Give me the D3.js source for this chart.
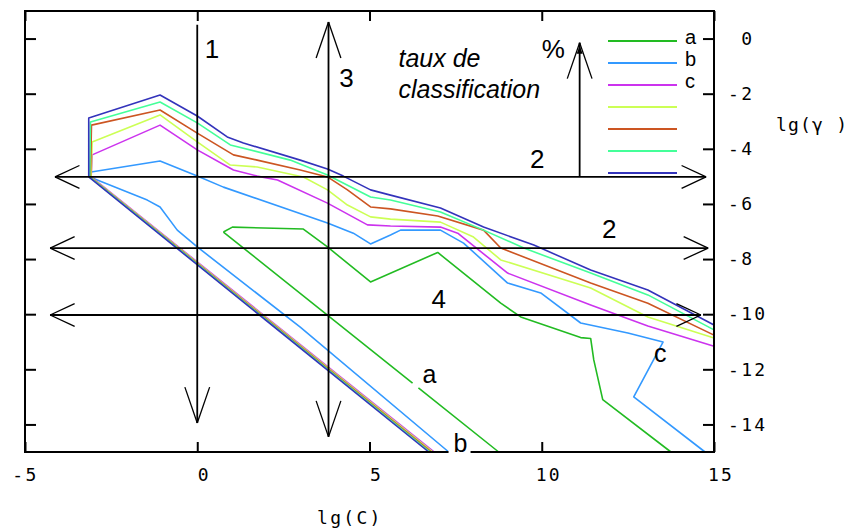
<!DOCTYPE html>
<html>
<head>
<meta charset="utf-8">
<script src="https://cdn.jsdelivr.net/npm/d3@7"></script>
<style>
  html, body { margin: 0; padding: 0; background: #fff; }
  svg { display: block; }
  .mono { font-family: "DejaVu Sans Mono", monospace; font-size: 18px; letter-spacing: 2.3px; fill: #000; }
  .sans { font-family: "Liberation Sans", Arial, sans-serif; fill: #000; }
</style>
</head>
<body>
<svg id="chart" width="853" height="529"></svg>
<script>
// ---------------- data ----------------
const xTicks = [-5, 0, 5, 10, 15];
const yTicks = [0, -2, -4, -6, -8, -10, -12, -14];
const seriesKeys = ["a", "b", "c", "d", "e", "f", "g"];
const seriesColors = ["#22bb22", "#3399ff", "#cc33ee", "#ccff55", "#cc5522", "#44ff99", "#3333bb"];
const legendLabels = ["a", "b", "c", "", "", "", ""];

// contour "a" (closed loop-ish shape)
const upperA = [[0.76,-7.02],[1.02,-6.84],[3.08,-6.91],[3.78,-7.56],[5.03,-8.83],[6.98,-7.76],[8.81,-9.6],[9.39,-10.1],[11.13,-10.85],[11.42,-10.88],[11.51,-11.66],[11.77,-13.1],[13.75,-15]];
const lowerA = [[0.76,-7.02],[6.25,-12.5],null,[6.42,-12.67],[8.75,-15]];
// contour "b"
const upperB = [[-3.12,-5.02],[-3.08,-4.84],[-1.08,-4.44],[0,-4.99],[0.76,-5.39],[3.78,-6.69],[4.53,-7.06],[5.03,-7.45],[5.61,-7.13],[5.9,-6.95],[7.06,-6.95],[7.73,-7.42],[9.01,-8.87],[9.97,-9.23],[11.13,-10.32],[12.5,-10.68],[13.52,-11.01],[12.67,-13.0],[14.74,-15]];
const lowerB = [[-3.12,-5.02],[-1.45,-5.86],[-1.08,-6.11],[-0.58,-6.95],[0,-7.56],[2.99,-10.47],[7.3,-15]];
// contour "c"
const upperC = [[-3.08,-5.02],[-3.05,-4.22],[-1.08,-3.14],[0,-4.04],[1.05,-4.77],[1.74,-4.99],[2.33,-5.13],[3.78,-5.97],[4.94,-6.76],[5.61,-6.8],[7.06,-6.84],[7.56,-7.06],[8.43,-7.93],[9.01,-8.51],[11.42,-9.67],[13.08,-10.43],[15,-11.16]];
const lowerC = [[-3.08,-5.02],[6.88,-15]];
// contour "d"
const upperD = [[-3.08,-5.02],[-3.05,-3.75],[-1.08,-2.77],[0,-3.75],[0.96,-4.59],[1.74,-4.66],[3.08,-5.02],[3.78,-5.49],[4.36,-6.04],[5.03,-6.47],[5.61,-6.55],[7.06,-6.66],[8.02,-7.2],[8.81,-8.03],[11.42,-9.05],[13.08,-10.1],[15,-10.86]];
const lowerD = [[-3.1,-5.02],[6.84,-15]];
// contour "e"
const upperE = [[-3.1,-5.02],[-3.07,-3.14],[-1.08,-2.59],[0,-3.43],[1.05,-4.22],[1.74,-4.41],[2.99,-4.77],[3.78,-5.02],[4.36,-5.49],[5.03,-6.11],[5.61,-6.18],[6.98,-6.44],[8.31,-6.95],[8.81,-7.6],[11.42,-8.87],[13.08,-9.6],[15,-10.76]];
const lowerE = [[-3.12,-5.02],[6.8,-15]];
// contour "f"
const upperF = [[-3.12,-5.02],[-3.1,-3.03],[-1.08,-2.3],[0,-3.06],[0.96,-3.86],[2.7,-4.41],[3.78,-4.95],[5.03,-5.75],[5.61,-5.86],[7.06,-6.29],[8.31,-6.95],[9.48,-7.6],[11.42,-8.51],[13.08,-9.3],[15,-10.57]];
const lowerF = [[-3.13,-5.02],[6.76,-15]];
// contour "g"
const upperG = [[-3.15,-5.02],[-3.15,-2.88],[-1.08,-2.05],[0,-2.81],[0.87,-3.57],[1.34,-3.79],[2.99,-4.41],[3.78,-4.73],[4.24,-4.99],[5.03,-5.49],[5.61,-5.68],[7.06,-6.15],[8.31,-6.84],[9.77,-7.49],[11.42,-8.4],[13.08,-9.12],[15,-10.39]];
const lowerG = [[-3.15,-5.02],[6.72,-15]];

const upperBranches = [upperA, upperB, upperC, upperD, upperE, upperF, upperG];
const lowerBranches = [lowerA, lowerB, lowerC, lowerD, lowerE, lowerF, lowerG];

// annotation arrows (data coordinates)
const arrowFrom = [[0,0.5],[3.81,-14.45],[-4.13,-5.02],[-4.27,-7.6],[-4.27,-10.03],[11.1,-5.02]];
const arrowTo   = [[0,-13.95],[3.81,0.6],[14.77,-5.02],[14.83,-7.6],[14.62,-10.03],[11.1,-0.15]];
const arrowStartHead = [false, true, true, true, true, false];
const arrowEndHead   = [true, true, true, true, true, true];

// annotation texts (data coordinates of text start / baseline)
const annoTexts = ["1", "3", "2", "2", "4", "%"];
const annoPos = [[0.22,-0.71],[4.12,-1.76],[9.66,-4.70],[11.75,-7.24],[6.8,-9.78],[10.0,-0.71]];
const titleLines = ["taux de", "classification"];
const titlePos = [[5.84,-1.03],[5.84,-2.16]];
const curveLabels = ["a", "b", "c"];
const curveLabelPos = [[6.54,-12.5],[7.44,-15.0],[13.26,-11.74]];

// ---------------- chart ----------------
const svg = d3.select("#chart");
const x = d3.scaleLinear().domain([-5, 15]).range([25, 714]);
const y = d3.scaleLinear().domain([-15, 1]).range([452, 11]);

svg.append("rect").attr("width", 853).attr("height", 529).attr("fill", "#fff");

const line = d3.line()
  .defined(d => d !== null)
  .x(d => x(d[0])).y(d => y(d[1]));

const curves = svg.append("g").attr("fill", "none").attr("stroke-width", 1.6).attr("stroke-linejoin", "round");
seriesKeys.forEach((k, i) => {
  curves.append("path").attr("d", line(lowerBranches[i])).attr("stroke", seriesColors[i]);
  curves.append("path").attr("d", line(upperBranches[i])).attr("stroke", seriesColors[i]);
});

// annotation arrows
const anno = svg.append("g").attr("stroke", "#000").attr("fill", "none");
function head(tip, from) {
  const tx = x(tip[0]), ty = y(tip[1]);
  const fx = x(from[0]), fy = y(from[1]);
  const L = Math.hypot(tx - fx, ty - fy);
  const ux = (tx - fx) / L, uy = (ty - fy) / L;
  const vertical = Math.abs(uy) > Math.abs(ux);
  const len = vertical ? 38 : 27, ang = (vertical ? 19 : 25) * Math.PI / 180;
  [-1, 1].forEach(s => {
    const c = Math.cos(s * ang), sn = Math.sin(s * ang);
    const rx = ux * c - uy * sn, ry = ux * sn + uy * c;
    anno.append("line").attr("x1", tx).attr("y1", ty)
      .attr("x2", tx - rx * len).attr("y2", ty - ry * len)
      .attr("stroke-width", 1.3);
  });
}
arrowFrom.forEach((f, i) => {
  const t = arrowTo[i];
  anno.append("line")
    .attr("x1", x(f[0])).attr("y1", y(f[1]))
    .attr("x2", x(t[0])).attr("y2", y(t[1]))
    .attr("stroke-width", 1.8);
  if (arrowStartHead[i]) head(f, t);
  if (arrowEndHead[i]) head(t, f);
});
// small filled tip on the % arrow
{
  const t = arrowTo[5];
  const tx = x(t[0]), ty = y(t[1]);
  svg.append("path").attr("d", `M${tx},${ty + 3}L${tx - 3},${ty + 11}L${tx + 3},${ty + 11}Z`).attr("fill", "#000");
}

// axes (inward ticks on all four sides)
const fmt = v => (v < 0 ? "-" : "\u00a0") + Math.abs(v);
const axB = svg.append("g").attr("transform", `translate(0,${y(-15)})`)
  .call(d3.axisBottom(x).tickValues(xTicks).tickSizeInner(-10).tickSizeOuter(0).tickPadding(16).tickFormat(fmt));
const axT = svg.append("g").attr("transform", `translate(0,${y(1)})`)
  .call(d3.axisTop(x).tickValues(xTicks).tickSizeInner(-10).tickSizeOuter(0).tickFormat(""));
const axL = svg.append("g").attr("transform", `translate(${x(-5)},0)`)
  .call(d3.axisLeft(y).tickValues(yTicks).tickSizeInner(-11).tickSizeOuter(0).tickFormat(""));
const axR = svg.append("g").attr("transform", `translate(${x(15)},0)`)
  .call(d3.axisRight(y).tickValues(yTicks).tickSizeInner(-11).tickSizeOuter(0).tickPadding(14).tickFormat(fmt));
[axB, axT, axL, axR].forEach(a => {
  a.select(".domain").remove();
  a.selectAll(".tick line").attr("stroke", "#000").attr("stroke-width", 2);
  a.selectAll("text").attr("class", "mono").attr("font-family", null).attr("font-size", null).attr("fill", "#000");
});
axR.selectAll("text").attr("text-anchor", "start");

// frame
svg.append("rect")
  .attr("x", x(-5)).attr("y", y(1))
  .attr("width", x(15) - x(-5)).attr("height", y(-15) - y(1))
  .attr("fill", "none").attr("stroke", "#000").attr("stroke-width", 2);

// annotation texts
annoTexts.forEach((t, i) => {
  svg.append("text").attr("class", "sans").attr("font-size", 26)
    .attr("x", x(annoPos[i][0])).attr("y", y(annoPos[i][1])).text(t);
});
titleLines.forEach((t, i) => {
  svg.append("text").attr("class", "sans").attr("font-size", 25).attr("font-style", "italic")
    .attr("x", x(titlePos[i][0])).attr("y", y(titlePos[i][1])).text(t);
});
curveLabels.forEach((t, i) => {
  const px = x(curveLabelPos[i][0]), py = y(curveLabelPos[i][1]);
  if (t === "b") {
    svg.append("rect").attr("x", px - 5).attr("y", py - 20).attr("width", 22).attr("height", 24).attr("fill", "#fff");
  }
  svg.append("text").attr("class", "sans").attr("font-size", 25)
    .attr("x", px).attr("y", py).text(t);
});

// legend
const leg = svg.append("g");
seriesKeys.forEach((k, i) => {
  const ly = 41 + i * 22;
  leg.append("line").attr("x1", 608).attr("x2", 677).attr("y1", ly).attr("y2", ly)
    .attr("stroke", seriesColors[i]).attr("stroke-width", 2);
  if (legendLabels[i]) {
    leg.append("text").attr("class", "sans").attr("font-size", 20)
      .attr("x", 685).attr("y", ly + 3).text(legendLabels[i]);
  }
});

// axis titles
svg.append("text").attr("class", "mono").attr("x", 317).attr("y", 524).text("lg(C)");
svg.append("text").attr("class", "mono").attr("x", 776).attr("y", 131)
  .style("letter-spacing", "1.2px").text("lg(γ )");
</script>
</body>
</html>
